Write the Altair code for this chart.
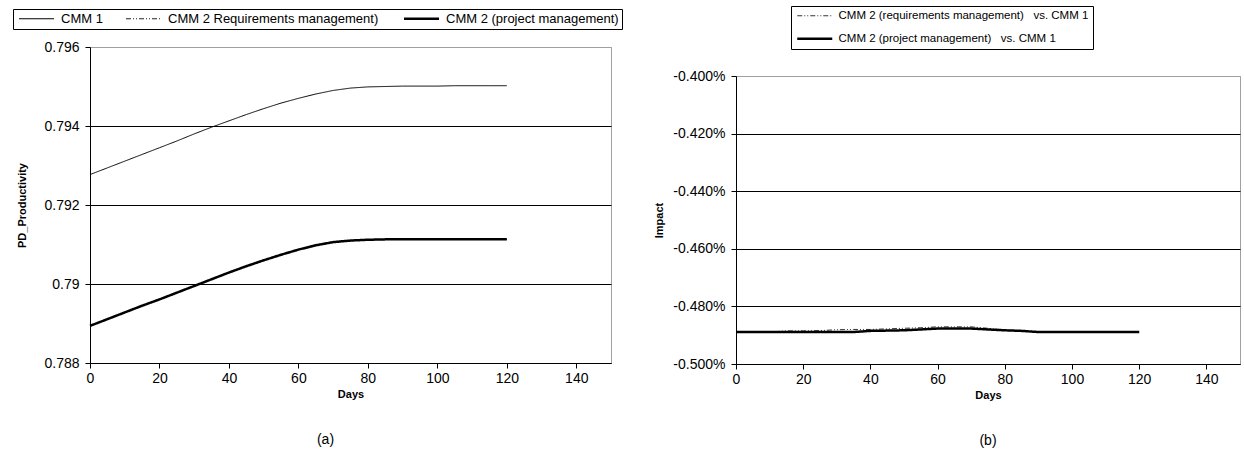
import altair as alt
import pandas as pd

FONT = "Liberation Sans"

days = [0, 5, 10, 15, 20, 25, 30, 35, 40, 45, 50, 55, 60, 65, 70, 75, 80, 85, 90, 95, 100, 105, 110, 115, 120]

cmm1 = [0.79277, 0.79294, 0.79311, 0.79328, 0.79345, 0.79362, 0.79380, 0.79397, 0.79413,
        0.79429, 0.79444, 0.79458, 0.79470, 0.79481, 0.79490, 0.79496, 0.79499, 0.79500,
        0.79501, 0.79501, 0.79501, 0.79502, 0.79502, 0.79502, 0.79502]
cmm2_proj = [0.78894, 0.78911, 0.78928, 0.78945, 0.78961, 0.78978, 0.78995, 0.79012, 0.79029,
             0.79045, 0.79060, 0.79074, 0.79087, 0.79098, 0.79106, 0.79110, 0.79112, 0.79113,
             0.79113, 0.79113, 0.79113, 0.79113, 0.79113, 0.79113, 0.79113]
cmm2_req = [0.78894, 0.78911, 0.78928, 0.78945, 0.78961, 0.78978, 0.78995, 0.79012, 0.79029,
            0.79046, 0.79061, 0.79075, 0.79088, 0.79099, 0.79107, 0.79110, 0.79112, 0.79113,
            0.79113, 0.79113, 0.79113, 0.79113, 0.79113, 0.79113, 0.79113]

impact_req = [-0.004889, -0.004889, -0.004889, -0.004885, -0.004885, -0.004884, -0.004881,
              -0.004880, -0.004880, -0.004878, -0.004876, -0.004874, -0.004871, -0.004871,
              -0.004871, -0.004876, -0.004882, -0.004886, -0.004889, -0.004889, -0.004889,
              -0.004889, -0.004889, -0.004889, -0.004889]
impact_proj = [-0.004889, -0.004889, -0.004889, -0.004889, -0.004889, -0.004889, -0.004889,
               -0.004889, -0.004885, -0.004884, -0.004883, -0.004880, -0.004877, -0.004877,
               -0.004877, -0.004880, -0.004883, -0.004885, -0.004889, -0.004889, -0.004889,
               -0.004889, -0.004889, -0.004889, -0.004889]

left_names = ["CMM 1", "CMM 2 Requirements management)", "CMM 2 (project management)"]
right_names = ["CMM 2 (requirements management)\u00a0\u00a0\u00a0vs. CMM 1",
               "CMM 2 (project management)\u00a0\u00a0\u00a0vs. CMM 1"]
x_ticks = [0, 20, 40, 60, 80, 100, 120, 140]
left_y_ticks = [0.788, 0.790, 0.792, 0.794, 0.796]
right_y_ticks = [-0.005, -0.0048, -0.0046, -0.0044, -0.0042, -0.004]

left_rows = []
for name, vals in zip(left_names, [cmm1, cmm2_req, cmm2_proj]):
    for d, v in zip(days, vals):
        left_rows.append({"day": d, "value": v, "series": name})
left_df = pd.DataFrame(left_rows)

right_rows = []
for name, vals in zip(right_names, [impact_req, impact_proj]):
    for d, v in zip(days, vals):
        right_rows.append({"day": d, "value": v, "series": name})
right_df = pd.DataFrame(right_rows)


def make_legend(x, y, direction, columns, col_pad, row_pad, font_size, pad):
    return alt.Legend(
        title=None, orient="none", legendX=x, legendY=y, direction=direction,
        columns=columns, columnPadding=col_pad, rowPadding=row_pad,
        symbolType="M-1,0H9", symbolSize=49, labelFont=FONT, labelFontSize=font_size,
        labelColor="black", labelLimit=500, labelOffset=32,
        strokeColor="black", fillColor="white", padding=pad,
    )


x_axis = alt.Axis(values=x_ticks, title="Days", labelFont=FONT, labelFontSize=14,
                  labelColor="black", titleFont=FONT, titleFontSize=11,
                  titleFontWeight="bold", titleColor="black", domainColor="black",
                  tickColor="black", tickSize=5, labelPadding=3, titlePadding=3,
                  grid=False, labelFlush=False)

# ---------------- left panel ----------------
l_legend = make_legend(-77, -38, "horizontal", 3, 20, 0, 13, 3)
left = alt.Chart(left_df).mark_line(interpolate="linear").encode(
    x=alt.X("day:Q", scale=alt.Scale(domain=[0, 150], nice=False), axis=x_axis),
    y=alt.Y("value:Q", scale=alt.Scale(domain=[0.788, 0.796], nice=False, zero=False),
            axis=alt.Axis(values=left_y_ticks, format=".3~f", title="PD_Productivity",
                          labelFont=FONT, labelFontSize=14, labelColor="black",
                          titleFont=FONT, titleFontSize=11, titleFontWeight="bold",
                          titleColor="black", domainColor="black", tickColor="black",
                          tickSize=5, labelPadding=6, titlePadding=16,
                          gridColor=alt.condition("datum.value > 0.7959", alt.value("#a0a0a0"), alt.value("black")),
                          gridOpacity=1)),
    color=alt.Color("series:N", scale=alt.Scale(domain=left_names, range=["black", "#222222", "black"]),
                    legend=l_legend),
    strokeDash=alt.StrokeDash("series:N", scale=alt.Scale(domain=left_names, range=[[1, 0], [5, 2, 1, 2, 1, 2], [1, 0]]),
                              legend=l_legend),
    strokeWidth=alt.StrokeWidth("series:N", scale=alt.Scale(type="ordinal", domain=left_names, range=[1, 1, 2.5]),
                                legend=l_legend),
).properties(
    width=521, height=316,
    title=alt.TitleParams("(a)", orient="bottom", offset=34, fontSize=14, font=FONT,
                          fontWeight="normal", color="black", dx=-25),
)

# ---------------- right panel ----------------
r_legend = make_legend(55, -41, "vertical", 1, 10, 10, 11.5, 4)
right = alt.Chart(right_df).mark_line(interpolate="linear").encode(
    x=alt.X("day:Q", scale=alt.Scale(domain=[0, 150], nice=False), axis=x_axis),
    y=alt.Y("value:Q", scale=alt.Scale(domain=[-0.005, -0.004], nice=False, zero=False),
            axis=alt.Axis(values=right_y_ticks,
                          labelExpr="(datum.value < 0 ? '-' : '') + format(abs(datum.value), '.3%')",
                          title="Impact",
                          labelFont=FONT, labelFontSize=14, labelColor="black",
                          titleFont=FONT, titleFontSize=11, titleFontWeight="bold",
                          titleColor="black", domainColor="black", tickColor="black",
                          tickSize=5, labelPadding=6, titlePadding=8,
                          gridColor=alt.condition("datum.value > -0.00401", alt.value("#a0a0a0"), alt.value("black")),
                          gridOpacity=1)),
    color=alt.Color("series:N", scale=alt.Scale(domain=right_names, range=["#333333", "black"]),
                    legend=r_legend),
    strokeDash=alt.StrokeDash("series:N", scale=alt.Scale(domain=right_names, range=[[5, 2, 1, 2, 1, 2], [1, 0]]),
                              legend=r_legend),
    strokeWidth=alt.StrokeWidth("series:N", scale=alt.Scale(domain=right_names, range=[1, 2.5]),
                                legend=r_legend),
).properties(
    width=504, height=288,
    title=alt.TitleParams("(b)", orient="bottom", offset=34, fontSize=14, font=FONT,
                          fontWeight="normal", color="black"),
)

spacer = alt.Chart(pd.DataFrame({"a": [0]})).mark_text(text="").encode(
    x=alt.value(0), y=alt.value(0)
).properties(width=504, height=29, view=alt.ViewBackground(strokeOpacity=0))

right_col = alt.vconcat(spacer, right, spacing=0, bounds="flush")

chart = alt.hconcat(left, right_col, spacing=125, bounds="flush").resolve_scale(
    color="independent", strokeDash="independent", strokeWidth="independent"
).resolve_legend(
    color="independent", strokeDash="independent", strokeWidth="independent"
).properties(
    padding={"left": 12, "top": 5, "right": 0, "bottom": 0},
    background="white",
).configure_view(
    stroke="#a0a0a0", strokeWidth=1
)

chart.save("out.html", embed_options={"renderer": "svg", "actions": False})
